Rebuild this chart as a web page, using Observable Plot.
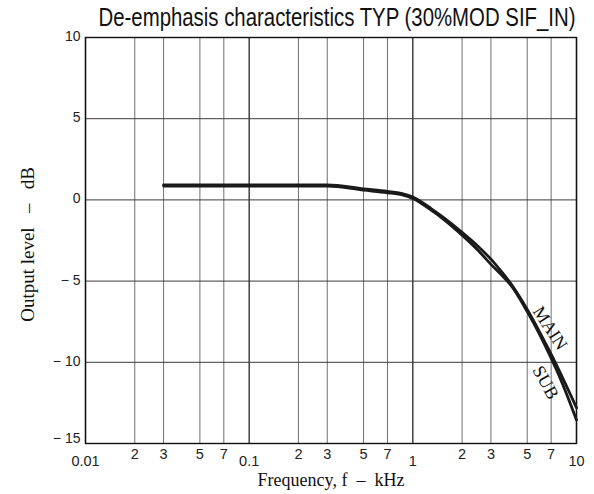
<!DOCTYPE html>
<html>
<head>
<meta charset="utf-8">
<script src="https://cdn.jsdelivr.net/npm/d3@7"></script>
<script src="https://cdn.jsdelivr.net/npm/@observablehq/plot@0.6"></script>
<style>
  html, body { margin: 0; padding: 0; background: #fff; }
  #chart svg { display: block; }
</style>
</head>
<body>
<div id="chart"></div>
<script>
// ---- data ----
const freqMain = [0.03, 0.1, 0.2, 0.3, 0.5, 0.7, 0.85, 1, 1.3, 1.5, 2, 2.5, 3, 3.5, 4, 5, 6, 7, 8, 10];
const levelMain = [0.93, 0.93, 0.93, 0.93, 0.68, 0.52, 0.4, 0.17, -0.55, -1.0, -2.0, -2.85, -3.65, -4.45, -5.2, -6.75, -8.2, -9.5, -10.7, -12.8];
const freqSub = [0.03, 0.1, 0.2, 0.3, 0.5, 0.7, 0.85, 1, 1.3, 1.5, 2, 2.5, 3, 3.5, 4, 5, 6, 7, 8, 10];
const levelSub = [0.85, 0.85, 0.85, 0.85, 0.6, 0.44, 0.32, 0.09, -0.65, -1.1, -2.17, -3.1, -3.97, -4.65, -5.3, -6.88, -8.35, -9.75, -11.05, -13.55];

const minorTicks = [0.02, 0.03, 0.05, 0.07, 0.2, 0.3, 0.5, 0.7, 2, 3, 5, 7];
const minorLabels = ["2", "3", "5", "7", "2", "3", "5", "7", "2", "3", "5", "7"];
const decadeTicks = [0.01, 0.1, 1, 10];
const decadeLabels = ["0.01", "0.1", "1", "10"];
const yTicks = [10, 5, 0, -5, -10];
const yLabels = ["10", "5", "0", "− 5", "− 10"];
const yBottom = [-15];
const yBottomLabel = ["− 15"];

const seriesNames = ["MAIN", "SUB"];
const seriesLabelF = [6.9, 6.47];
const seriesLabelDb = [-7.9, -11.25];
const seriesLabelAngle = [57, 61];

const title = "De-emphasis characteristics TYP (30%MOD SIF_IN)";
const xTitle = "Frequency, f\u00a0\u00a0–\u00a0\u00a0kHz";
const yTitle = "Output level\u00a0\u00a0\u00a0–\u00a0\u00a0\u00a0dB";

// ---- build ----
const mainData = freqMain.map((f, i) => ({f, db: levelMain[i]}));
const subData = freqSub.map((f, i) => ({f, db: levelSub[i]}));
const sans = "Liberation Sans, Arial, sans-serif";
const serif = "Liberation Serif, Times New Roman, serif";

const chart = Plot.plot({
  width: 594,
  height: 494,
  marginLeft: 85,
  marginRight: 18,
  marginTop: 37,
  marginBottom: 51,
  x: {type: "log", domain: [0.01, 10], axis: null},
  y: {domain: [-15, 10], axis: null},
  style: {background: "#fff"},
  marks: [
    Plot.ruleX(minorTicks, {stroke: "#707070", strokeWidth: 1}),
    Plot.ruleX(decadeTicks, {stroke: "#111", strokeWidth: 1.2}),
    Plot.ruleY(yTicks, {stroke: "#3a3a3a", strokeWidth: 1}),
    Plot.frame({stroke: "#111", strokeWidth: 1.4}),
    Plot.line(mainData, {x: "f", y: "db", curve: "monotone-x", stroke: "#1a1a1a", strokeWidth: 2.8}),
    Plot.line(subData, {x: "f", y: "db", curve: "monotone-x", stroke: "#1a1a1a", strokeWidth: 2.8}),
    // y tick labels
    Plot.text(yTicks, {x: () => 0.01, y: d => d, text: (d, i) => yLabels[i], textAnchor: "end", dx: -5, dy: -1, fontSize: 14, fontFamily: sans, fill: "#222"}),
    Plot.text(yBottom, {x: () => 0.01, y: d => d, text: (d, i) => yBottomLabel[i], textAnchor: "end", dx: -5, dy: -5, fontSize: 14, fontFamily: sans, fill: "#222"}),
    // x tick labels
    Plot.text(minorTicks, {x: d => d, text: (d, i) => minorLabels[i], frameAnchor: "bottom", textAnchor: "middle", dy: 11, lineAnchor: "middle", fontSize: 14.5, fontFamily: sans, fill: "#222"}),
    Plot.text(decadeTicks, {x: d => d, text: (d, i) => decadeLabels[i], frameAnchor: "bottom", textAnchor: "middle", dy: 18, lineAnchor: "middle", fontSize: 14.5, fontFamily: sans, fill: "#222"}),
    // series labels
    Plot.text(seriesNames, {x: (d, i) => seriesLabelF[i], y: (d, i) => seriesLabelDb[i], text: d => d, rotate: (d, i) => seriesLabelAngle[i], fontSize: 18, fontFamily: serif, fill: "#111"}),
    // axis titles
    Plot.text([xTitle], {text: d => d, frameAnchor: "bottom", textAnchor: "middle", dy: 37, lineAnchor: "middle", fontSize: 18, fontFamily: serif, fill: "#111"}),
    Plot.text([yTitle], {text: d => d, frameAnchor: "left", textAnchor: "middle", dx: -58, dy: 4, rotate: -90, lineAnchor: "middle", fontSize: 19, fontFamily: serif, fill: "#111"}),
    // title
    Plot.text([title], {text: d => d, frameAnchor: "top", textAnchor: "middle", dx: 6, dy: -12, lineAnchor: "bottom", fontSize: 20, fontFamily: sans, fill: "#111"})
  ]
});
document.getElementById("chart").appendChild(chart);
// condense / stretch the title to the reference's narrow, tall lettering
for (const t of chart.querySelectorAll("text")) {
  if (t.textContent === title) {
    t.setAttribute("textLength", "477");
    t.setAttribute("lengthAdjust", "spacingAndGlyphs");
    const tr = t.getAttribute("transform");
    if (tr && tr.includes("translate")) {
      t.setAttribute("transform", tr + " scale(1,1.33)");
    } else {
      const y = +(t.getAttribute("y") || 0);
      t.setAttribute("transform", `translate(0,${y}) scale(1,1.33) translate(0,${-y})` + (tr ? " " + tr : ""));
    }
  }
}
</script>
</body>
</html>
